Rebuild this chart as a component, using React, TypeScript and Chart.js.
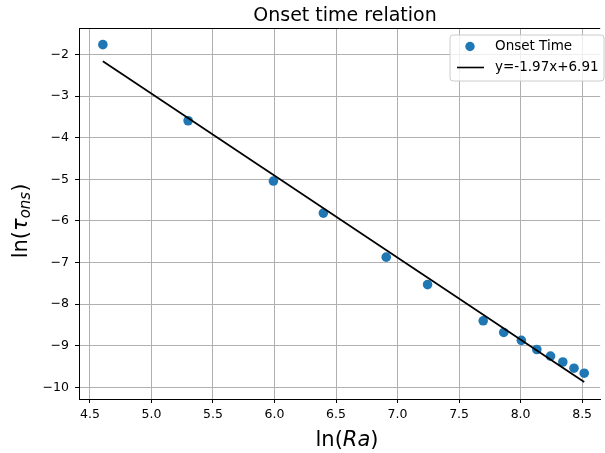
import React, { useEffect, useRef } from "react";
import { Chart, registerables } from "chart.js";

Chart.register(...registerables);

// ---- data ----
const onsetX = [4.605, 5.298, 5.991, 6.397, 6.908, 7.244, 7.696, 7.863, 8.006, 8.132, 8.243, 8.343, 8.434, 8.517];
const onsetY = [-1.76, -3.59, -5.04, -5.81, -6.87, -7.53, -8.40, -8.68, -8.87, -9.09, -9.25, -9.39, -9.54, -9.66];
const fitX = [4.605, 8.517];
const fitY = [-2.16, -9.87];
const xTicks = [4.5, 5.0, 5.5, 6.0, 6.5, 7.0, 7.5, 8.0, 8.5];
const yTicks = [-10, -9, -8, -7, -6, -5, -4, -3, -2];
const titleText = "Onset time relation";
const legendLabels = ["Onset Time", "y=-1.97x+6.91"];

const FONT = "'DejaVu Sans', 'Liberation Sans', sans-serif";
const BLUE = "#1f77b4";

const decorPlugin = {
  id: "decor",
  afterDraw(chart: any) {
    const ctx = chart.ctx as CanvasRenderingContext2D;
    const a = chart.chartArea;
    ctx.save();
    // top spine
    ctx.strokeStyle = "#000";
    ctx.lineWidth = 1;
    ctx.beginPath();
    ctx.moveTo(a.left, a.top + 0.5);
    ctx.lineTo(a.right, a.top + 0.5);
    ctx.stroke();

    // title
    ctx.fillStyle = "#000";
    ctx.font = `19px ${FONT}`;
    ctx.textAlign = "center";
    ctx.textBaseline = "alphabetic";
    ctx.fillText(titleText, 345, 21);

    // x label: ln(Ra)
    const xl = [
      { t: "ln(", f: `21px ${FONT}` },
      { t: "Ra", f: `italic 21px ${FONT}` },
      { t: ")", f: `21px ${FONT}` },
    ];
    let total = 0;
    for (const p of xl) { ctx.font = p.f; total += ctx.measureText(p.t).width; }
    let x = 347 - total / 2;
    ctx.textAlign = "left";
    for (const p of xl) { ctx.font = p.f; ctx.fillText(p.t, x, 446); x += ctx.measureText(p.t).width; }

    // y label: ln(tau_ons)
    ctx.save();
    ctx.translate(27, 221);
    ctx.rotate(-Math.PI / 2);
    const yl = [
      { t: "ln(", f: `21px ${FONT}`, dy: 0 },
      { t: "τ", f: `italic 21px ${FONT}`, dy: 0 },
      { t: "ons", f: `italic 15px ${FONT}`, dy: 3 },
      { t: ")", f: `21px ${FONT}`, dy: 0 },
    ];
    total = 0;
    for (const p of yl) { ctx.font = p.f; total += ctx.measureText(p.t).width; }
    x = -total / 2;
    for (const p of yl) { ctx.font = p.f; ctx.fillText(p.t, x, p.dy); x += ctx.measureText(p.t).width; }
    ctx.restore();

    // legend
    const lx = 450, ly = 35, lw = 154, lh = 46, r = 3;
    ctx.beginPath();
    ctx.moveTo(lx + r, ly);
    ctx.lineTo(lx + lw - r, ly);
    ctx.arcTo(lx + lw, ly, lx + lw, ly + r, r);
    ctx.lineTo(lx + lw, ly + lh - r);
    ctx.arcTo(lx + lw, ly + lh, lx + lw - r, ly + lh, r);
    ctx.lineTo(lx + r, ly + lh);
    ctx.arcTo(lx, ly + lh, lx, ly + lh - r, r);
    ctx.lineTo(lx, ly + r);
    ctx.arcTo(lx, ly, lx + r, ly, r);
    ctx.closePath();
    ctx.fillStyle = "rgba(255,255,255,0.8)";
    ctx.fill();
    ctx.strokeStyle = "#cccccc";
    ctx.lineWidth = 1;
    ctx.stroke();

    ctx.fillStyle = BLUE;
    ctx.beginPath();
    ctx.arc(470, 46.5, 4.7, 0, Math.PI * 2);
    ctx.fill();

    ctx.strokeStyle = "#000";
    ctx.lineWidth = 1.6;
    ctx.beginPath();
    ctx.moveTo(457, 67.5);
    ctx.lineTo(484, 67.5);
    ctx.stroke();

    ctx.fillStyle = "#000";
    ctx.font = `13.5px ${FONT}`;
    ctx.textAlign = "left";
    ctx.textBaseline = "middle";
    ctx.fillText(legendLabels[0], 495, 46.5);
    ctx.fillText(legendLabels[1], 495, 67.5);
    ctx.restore();
  },
};

export default function App() {
  const ref = useRef<HTMLCanvasElement | null>(null);
  useEffect(() => {
    if (!ref.current) return;
    const chart = new Chart(ref.current, {
      type: "scatter",
      data: {
        datasets: [
          {
            type: "line",
            label: legendLabels[1],
            data: fitX.map((v, i) => ({ x: v, y: fitY[i] })),
            borderColor: "#000",
            borderWidth: 1.7,
            pointRadius: 0,
            fill: false,
            order: 0,
          } as any,
          {
            type: "scatter",
            label: legendLabels[0],
            data: onsetX.map((v, i) => ({ x: v, y: onsetY[i] })),
            backgroundColor: BLUE,
            borderWidth: 0,
            pointRadius: 4.8,
            order: 1,
          },
        ],
      },
      options: {
        responsive: false,
        animation: false,
        devicePixelRatio: 1,
        layout: { padding: { top: 28, right: 0, left: 0, bottom: 0 } },
        plugins: { legend: { display: false }, tooltip: { enabled: false }, title: { display: false } },
        scales: {
          x: {
            type: "linear",
            min: 4.411,
            max: 8.647,
            afterBuildTicks: (s: any) => { s.ticks = xTicks.map((v) => ({ value: v })); },
            afterFit: (s: any) => { s.height = 54; s.paddingLeft = 0; s.paddingRight = 0; },
            grid: { color: "#b0b0b0", lineWidth: 1, tickLength: 4, tickColor: "#000", drawTicks: true },
            border: { color: "#000", width: 1 },
            ticks: {
              color: "#000",
              font: { family: FONT, size: 12.5 },
              padding: 4,
              maxRotation: 0,
              autoSkip: false,
              callback: (v: any) => Number(v).toFixed(1),
            },
          },
          y: {
            type: "linear",
            min: -10.28,
            max: -1.36,
            afterBuildTicks: (s: any) => { s.ticks = yTicks.map((v) => ({ value: v })); },
            afterFit: (s: any) => { s.width = 79; s.paddingTop = 0; s.paddingBottom = 0; },
            grid: { color: "#b0b0b0", lineWidth: 1, tickLength: 4, tickColor: "#000", drawTicks: true },
            border: { color: "#000", width: 1 },
            ticks: {
              color: "#000",
              font: { family: FONT, size: 12.5 },
              padding: 6,
              autoSkip: false,
              callback: (v: any) => (Number(v) < 0 ? "\u2212" + Math.abs(Number(v)) : String(v)),
            },
          },
        },
      },
      plugins: [decorPlugin],
    });
    return () => chart.destroy();
  }, []);
  return (
    <div style={{ position: "fixed", left: 0, top: 0, width: 605, height: 453, overflow: "hidden", background: "#fff" }}>
      <canvas ref={ref} width={605} height={453} style={{ display: "block" }} />
    </div>
  );
}
